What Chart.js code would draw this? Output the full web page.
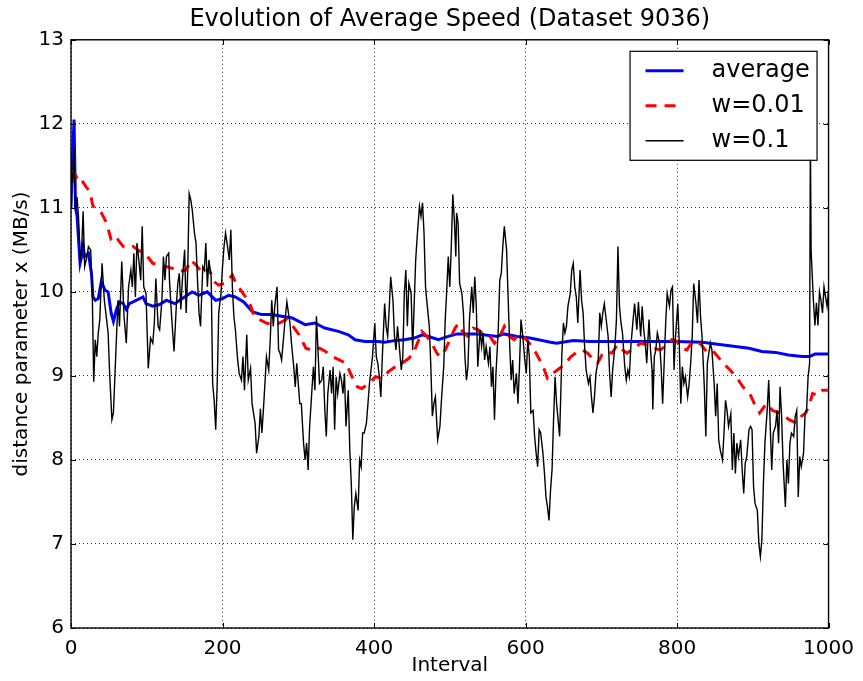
<!DOCTYPE html>
<html>
<head>
<meta charset="utf-8">
<script src="https://cdn.jsdelivr.net/npm/chart.js@4.4.0/dist/chart.umd.min.js"></script>
<style>
html, body { margin: 0; padding: 0; background: #fff; }
</style>
</head>
<body>
<canvas id="speed" width="863" height="681"></canvas>
<script>
// average
var avgX = [0, 2, 4, 6, 8, 10, 12, 14, 16, 18, 23, 27, 29, 32, 36, 40, 45, 49, 53, 56,
	60, 64, 69, 73, 77, 86, 95, 99, 108, 117, 126, 137, 147, 160, 169, 180, 191, 200, 208, 217,
	228, 240, 252, 265, 278, 292, 309, 322, 335, 353, 366, 375, 388, 405, 414, 427, 440, 453, 464, 475,
	485, 498, 510, 536, 563, 571, 589, 606, 633, 641, 663, 685, 720, 764, 799, 834, 851, 877, 895, 912,
	930, 947, 965, 975, 982, 1000];
var avgY = [11.0, 11.6, 12.05, 11.0, 10.9, 10.62, 10.34, 10.42, 10.54, 10.42, 10.46, 10.22, 9.94, 9.9, 9.92, 10.12, 10.02, 10.0, 9.75, 9.65,
	9.79, 9.88, 9.86, 9.79, 9.86, 9.9, 9.94, 9.86, 9.83, 9.85, 9.9, 9.86, 9.92, 10.0, 9.96, 10.0, 9.9, 9.92, 9.96, 9.94,
	9.88, 9.76, 9.73, 9.73, 9.71, 9.69, 9.61, 9.63, 9.57, 9.53, 9.49, 9.43, 9.41, 9.41, 9.4, 9.42, 9.43, 9.45, 9.49, 9.46,
	9.43, 9.47, 9.5, 9.5, 9.47, 9.5, 9.47, 9.45, 9.4, 9.39, 9.42, 9.41, 9.41, 9.41, 9.41, 9.4, 9.38, 9.35, 9.33, 9.29,
	9.28, 9.25, 9.23, 9.23, 9.26, 9.26];

// w=0.01
var slowX = [0, 4, 10, 14, 20, 25, 29, 36, 40, 47, 53, 58, 62, 69, 75, 82, 88, 95, 99, 108,
	117, 126, 134, 143, 152, 158, 165, 174, 182, 189, 195, 202, 209, 213, 217, 224, 229, 236, 242, 249,
	258, 266, 275, 284, 293, 301, 310, 317, 328, 336, 345, 354, 363, 371, 378, 384, 393, 402, 411, 419,
	428, 437, 446, 452, 459, 463, 470, 476, 483, 487, 494, 500, 507, 511, 518, 524, 531, 537, 546, 553,
	559, 566, 572, 579, 585, 590, 599, 605, 614, 621, 625, 629, 636, 642, 651, 660, 669, 675, 682, 688,
	695, 701, 708, 714, 721, 728, 734, 743, 752, 760, 769, 778, 784, 793, 800, 806, 813, 819, 826, 832,
	839, 846, 852, 861, 870, 878, 887, 896, 902, 909, 918, 926, 935, 942, 948, 957, 964, 970, 975, 979,
	986, 992, 999];
var slowY = [11.45, 11.43, 11.31, 11.33, 11.25, 11.19, 11.02, 10.98, 10.94, 10.82, 10.62, 10.58, 10.62, 10.54, 10.52, 10.54, 10.5, 10.46, 10.44, 10.34,
	10.32, 10.3, 10.28, 10.24, 10.26, 10.38, 10.32, 10.22, 10.28, 10.12, 10.08, 10.1, 10.16, 10.2, 10.12, 10.02, 9.96, 9.86, 9.71, 9.67,
	9.63, 9.61, 9.63, 9.67, 9.59, 9.49, 9.33, 9.31, 9.33, 9.29, 9.23, 9.19, 9.15, 8.99, 8.87, 8.85, 8.91, 8.99, 8.97, 9.05,
	9.11, 9.15, 9.21, 9.27, 9.43, 9.53, 9.47, 9.39, 9.27, 9.23, 9.31, 9.43, 9.57, 9.62, 9.51, 9.47, 9.57, 9.55, 9.49, 9.47,
	9.39, 9.47, 9.59, 9.47, 9.43, 9.49, 9.45, 9.39, 9.27, 9.15, 9.07, 8.97, 9.03, 9.07, 9.13, 9.23, 9.29, 9.31, 9.27, 9.21,
	9.15, 9.25, 9.29, 9.27, 9.37, 9.31, 9.27, 9.33, 9.39, 9.37, 9.33, 9.31, 9.35, 9.43, 9.41, 9.33, 9.31, 9.39, 9.41, 9.37,
	9.29, 9.31, 9.25, 9.15, 9.07, 8.99, 8.87, 8.79, 8.67, 8.56, 8.67, 8.59, 8.56, 8.52, 8.48, 8.44, 8.52, 8.56, 8.67, 8.79,
	8.77, 8.83, 8.83];

// w=0.1
var fastX = [0, 2, 4, 6, 8, 10, 12, 14, 16, 18,
	21, 23, 26, 28, 30, 32, 34, 36, 38, 41,
	44, 47, 49, 51, 54, 56, 59, 62, 64, 67,
	70, 73, 76, 79, 81, 83, 85, 87, 90, 92,
	94, 96, 99, 102, 105, 108, 110, 112, 115, 117,
	120, 122, 124, 126, 129, 130, 132, 134, 136, 139,
	141, 143, 145, 147, 150, 152, 154, 156, 158, 160,
	163, 165, 167, 169, 171, 174, 176, 178, 180, 182,
	185, 187, 189, 191, 193, 195, 198, 200, 202, 204,
	206, 209, 211, 213, 215, 217, 220, 222, 225, 227,
	229, 232, 234, 237, 239, 241, 243, 245, 248, 250,
	252, 254, 256, 258, 261, 263, 265, 267, 269, 272,
	274, 276, 278, 280, 283, 285, 287, 289, 291, 294,
	296, 298, 300, 302, 304, 307, 309, 311, 313, 315,
	318, 320, 322, 324, 326, 328, 331, 333, 335, 337,
	339, 342, 344, 346, 348, 350, 352, 355, 357, 359,
	361, 363, 366, 368, 370, 372, 374, 376, 379, 381,
	383, 385, 387, 390, 392, 394, 396, 398, 401, 403,
	405, 407, 409, 411, 414, 416, 418, 420, 422, 425,
	427, 429, 431, 433, 436, 438, 440, 442, 444, 446,
	449, 451, 453, 455, 457, 460, 462, 464, 466, 468,
	470, 473, 475, 477, 479, 481, 484, 487, 489, 492,
	494, 496, 498, 500, 502, 504, 506, 508, 509, 511,
	513, 516, 518, 520, 522, 524, 526, 529, 531, 533,
	535, 537, 540, 542, 544, 546, 548, 551, 553, 555,
	557, 559, 561, 564, 566, 568, 570, 572, 575, 577,
	579, 581, 583, 585, 588, 590, 592, 594, 596, 599,
	601, 603, 605, 607, 610, 612, 614, 616, 618, 620,
	623, 625, 627, 629, 631, 633, 635, 637, 639, 641,
	643, 645, 648, 650, 652, 654, 656, 659, 661, 663,
	665, 667, 669, 672, 674, 676, 678, 680, 683, 685,
	687, 689, 691, 693, 696, 698, 700, 702, 704, 707,
	709, 711, 713, 715, 718, 720, 722, 724, 726, 728,
	731, 733, 735, 737, 739, 742, 744, 747, 749, 752,
	754, 756, 758, 760, 763, 765, 767, 768, 770, 772,
	774, 777, 779, 781, 783, 785, 787, 790, 792, 794,
	796, 798, 801, 803, 805, 807, 809, 811, 814, 816,
	818, 820, 822, 825, 827, 829, 831, 833, 836, 838,
	840, 842, 844, 846, 849, 851, 853, 855, 857, 860,
	862, 864, 866, 868, 871, 873, 875, 877, 879, 881,
	884, 886, 888, 890, 892, 895, 897, 899, 901, 903,
	906, 908, 910, 912, 914, 916, 919, 921, 923, 925,
	927, 930, 932, 934, 936, 938, 940, 943, 945, 947,
	949, 951, 954, 956, 958, 960, 962, 964, 967, 969,
	971, 973, 975, 976, 977, 980, 982, 984, 986, 988,
	990, 992, 994, 996, 998, 1000];
var fastY = [11.45, 11.3, 11.71, 10.98, 11.13, 10.88, 10.4, 10.5, 10.96, 10.3,
	10.42, 10.54, 10.5, 10.02, 8.93, 9.43, 9.23, 9.51, 9.67, 10.34,
	9.9, 9.67, 9.51, 9.03, 8.48, 8.56, 9.23, 9.9, 9.59, 10.36,
	9.71, 9.39, 10.06, 10.26, 10.06, 10.46, 9.94, 10.58, 10.34, 10.14,
	10.78, 10.06, 9.98, 9.09, 9.45, 9.39, 9.63, 10.16, 9.59, 9.55,
	9.9, 10.42, 10.14, 10.42, 10.46, 10.14, 9.83, 9.55, 9.29, 9.83,
	10.1, 10.22, 9.79, 10.14, 10.5, 9.75, 10.22, 11.17, 11.1, 10.98,
	10.7, 10.58, 10.14, 9.75, 9.59, 10.3, 10.26, 10.58, 10.06, 10.38,
	10.18, 8.91, 8.71, 8.36, 8.91, 9.75, 9.98, 10.3, 10.54, 10.7,
	10.58, 10.38, 10.74, 10.06, 9.71, 9.55, 9.19, 9.03, 8.95, 9.23,
	8.83, 9.49, 8.95, 9.09, 8.67, 8.55, 8.44, 8.08, 8.28, 8.61,
	8.32, 8.6, 8.91, 9.23, 9.07, 9.43, 9.9, 9.59, 9.83, 10.06,
	9.31, 9.27, 9.19, 9.39, 9.71, 9.88, 9.75, 9.63, 9.39, 9.11,
	8.87, 9.15, 8.91, 8.67, 8.67, 8.2, 8.0, 8.2, 7.88, 8.4,
	8.83, 9.11, 8.83, 9.71, 9.31, 8.91, 8.95, 9.11, 8.6, 8.28,
	8.79, 9.07, 8.79, 9.11, 8.36, 8.99, 8.79, 9.03, 8.95, 8.79,
	9.03, 8.4, 8.83, 8.12, 7.72, 7.05, 7.45, 7.6, 7.4, 8.0,
	7.92, 8.32, 8.32, 8.44, 8.67, 8.91, 9.07, 9.23, 9.63, 9.23,
	9.15, 8.99, 8.75, 9.23, 9.86, 9.59, 9.47, 9.79, 10.18, 9.9,
	9.47, 9.31, 9.59, 9.39, 9.07, 9.23, 9.98, 10.26, 9.59, 10.1,
	9.98, 9.31, 9.86, 10.38, 10.66, 11.02, 10.9, 11.06, 10.7, 10.06,
	9.86, 9.59, 9.11, 8.52, 8.67, 8.75, 8.24, 8.4, 8.71, 9.11,
	9.67, 10.02, 10.42, 10.06, 10.54, 11.16, 10.86, 10.42, 10.94, 10.82,
	10.1, 9.98, 9.75, 9.23, 8.95, 9.11, 9.67, 10.06, 9.75, 10.18,
	9.83, 9.11, 9.55, 9.35, 9.51, 9.19, 9.35, 9.15, 9.35, 8.87,
	9.11, 8.48, 9.03, 9.55, 10.14, 10.22, 10.54, 10.78, 10.5, 9.94,
	9.39, 8.95, 9.19, 8.79, 9.03, 8.67, 9.11, 9.67, 9.51, 9.19,
	9.03, 9.43, 9.23, 8.56, 8.59, 8.28, 8.08, 7.92, 8.36, 8.32,
	8.08, 7.84, 7.56, 7.44, 7.28, 7.64, 7.88, 8.48, 8.99, 8.67,
	8.48, 8.28, 9.27, 9.63, 9.51, 9.59, 9.83, 9.98, 10.26, 10.34,
	10.06, 9.94, 9.63, 10.26, 9.9, 9.75, 9.35, 9.07, 8.91, 8.99,
	8.75, 8.56, 8.75, 9.03, 9.19, 9.75, 9.59, 9.75, 9.86, 9.63,
	9.47, 9.03, 8.75, 9.07, 9.35, 9.67, 10.54, 9.83, 9.63, 9.51,
	9.11, 8.95, 9.07, 8.99, 9.35, 9.67, 9.86, 9.55, 9.88, 9.47,
	9.83, 9.55, 9.39, 9.15, 9.67, 9.31, 9.07, 8.6, 9.23, 9.31,
	9.51, 9.39, 9.11, 8.67, 9.15, 9.63, 9.98, 9.83, 10.02, 10.06,
	9.07, 9.47, 9.86, 9.35, 8.67, 9.11, 8.91, 8.99, 8.75, 8.91,
	9.15, 9.47, 10.1, 9.86, 9.63, 10.14, 9.71, 9.47, 8.87, 8.28,
	9.15, 9.27, 9.39, 9.31, 8.91, 8.52, 8.91, 8.24, 8.12, 8.0,
	8.32, 8.71, 8.59, 8.4, 8.55, 7.88, 8.32, 7.84, 8.2, 8.04,
	8.24, 7.88, 7.6, 7.96, 8.04, 8.36, 8.4, 8.36, 7.68, 7.48,
	7.4, 7.01, 6.85, 7.05, 7.72, 8.2, 8.59, 8.95, 8.4, 7.88,
	8.32, 8.4, 8.59, 8.2, 8.87, 8.52, 7.96, 7.44, 8.0, 7.72,
	8.2, 8.32, 8.28, 8.52, 8.59, 7.56, 8.04, 7.92, 8.08, 8.55,
	8.59, 8.99, 9.15, 11.85, 10.48, 9.9, 9.6, 9.87, 9.6, 10.0,
	9.9, 9.75, 10.06, 9.94, 9.83, 10.02];

var xTicks = [0, 200, 400, 600, 800, 1000];
var yTicks = [6, 7, 8, 9, 10, 11, 12, 13];

var toPoints = (xs, ys) => xs.map((v, i) => ({x: v, y: ys[i]}));
var font = 'DejaVu Sans';

// matplotlib style: frame, inward ticks on all sides, boxed legend inside the axes
var framePlugin = {
	id: 'frame',
	afterDraw(chart) {
		var ctx = chart.ctx;
		var a = chart.chartArea;
		var sx = chart.scales.x, sy = chart.scales.y;
		ctx.save();
		ctx.strokeStyle = '#000';
		ctx.lineWidth = 1;
		ctx.beginPath();
		xTicks.forEach(t => {
			var px = Math.round(sx.getPixelForValue(t)) + 0.5;
			ctx.moveTo(px, a.bottom); ctx.lineTo(px, a.bottom - 5);
			ctx.moveTo(px, a.top); ctx.lineTo(px, a.top + 5);
		});
		yTicks.forEach(t => {
			var py = Math.round(sy.getPixelForValue(t)) + 0.5;
			ctx.moveTo(a.left, py); ctx.lineTo(a.left + 5, py);
			ctx.moveTo(a.right, py); ctx.lineTo(a.right - 5, py);
		});
		ctx.stroke();
		ctx.lineWidth = 1.4;
		ctx.strokeRect(a.left, a.top, a.right - a.left, a.bottom - a.top);

		// legend
		var lx = a.right - 199, ly = a.top + 11, lw = 187, lh = 109;
		ctx.fillStyle = '#fff';
		ctx.fillRect(lx, ly, lw, lh);
		ctx.lineWidth = 1.2;
		ctx.strokeRect(lx + 0.5, ly + 0.5, lw, lh);
		ctx.font = '24px "' + font + '"';
		ctx.textBaseline = 'middle';
		ctx.textAlign = 'left';
		var rows = [20, 55, 90];
		chart.data.datasets.forEach((ds, i) => {
			var ry = ly + rows[i];
			ctx.beginPath();
			ctx.strokeStyle = ds.borderColor;
			ctx.lineWidth = ds.borderWidth;
			ctx.setLineDash(ds.borderDash || []);
			ctx.moveTo(lx + 16, ry);
			ctx.lineTo(lx + 54, ry);
			ctx.stroke();
			ctx.setLineDash([]);
			ctx.fillStyle = '#000';
			ctx.fillText(ds.label, lx + 82, ry);
		});
		ctx.restore();
	}
};

var chart = new Chart(document.getElementById('speed'), {
	type: 'line',
	data: {
		datasets: [
			{label: 'average', data: toPoints(avgX, avgY), borderColor: '#0000ff', borderWidth: 3, order: 3},
			{label: 'w=0.01', data: toPoints(slowX, slowY), borderColor: '#ff0000', borderWidth: 3, borderDash: [11, 8], order: 2},
			{label: 'w=0.1', data: toPoints(fastX, fastY), borderColor: '#000000', borderWidth: 1.4, order: 1}
		]
	},
	options: {
		responsive: false,
		animation: false,
		elements: {
			point: {radius: 0},
			line: {tension: 0, borderCapStyle: 'butt'}
		},
		layout: {padding: {left: 0, right: 31, top: 0, bottom: 0}},
		plugins: {
			legend: {display: false},
			tooltip: {enabled: false},
			title: {
				display: true,
				fullSize: false,
				text: 'Evolution of Average Speed (Dataset 9036)',
				color: '#000',
				font: {family: font, size: 24, weight: 'normal'},
				padding: {top: 5, bottom: 6}
			}
		},
		scales: {
			x: {
				type: 'linear',
				min: 0,
				max: 1000,
				afterBuildTicks: s => { s.ticks = xTicks.map(v => ({value: v})); },
				afterFit: s => { s.height = 53; },
				ticks: {color: '#000', font: {family: font, size: 20}, padding: 9, maxRotation: 0, callback: v => String(v)},
				grid: {color: '#000', lineWidth: 0.8, drawTicks: false},
				border: {display: false, dash: [1, 3]},
				title: {display: true, text: 'Interval', color: '#000', font: {family: font, size: 20}, padding: {top: 0, bottom: 3}}
			},
			y: {
				type: 'linear',
				min: 6,
				max: 13,
				afterBuildTicks: s => { s.ticks = yTicks.map(v => ({value: v})); },
				afterFit: s => { s.width = 71; },
				ticks: {color: '#000', font: {family: font, size: 20}, padding: 7, callback: v => String(v)},
				grid: {color: '#000', lineWidth: 0.8, drawTicks: false},
				border: {display: false, dash: [1, 3]},
				title: {display: true, text: 'distance parameter x (MB/s)', color: '#000', font: {family: font, size: 20}, padding: {top: 10, bottom: 0}}
			}
		}
	},
	plugins: [framePlugin]
});
</script>
</body>
</html>
